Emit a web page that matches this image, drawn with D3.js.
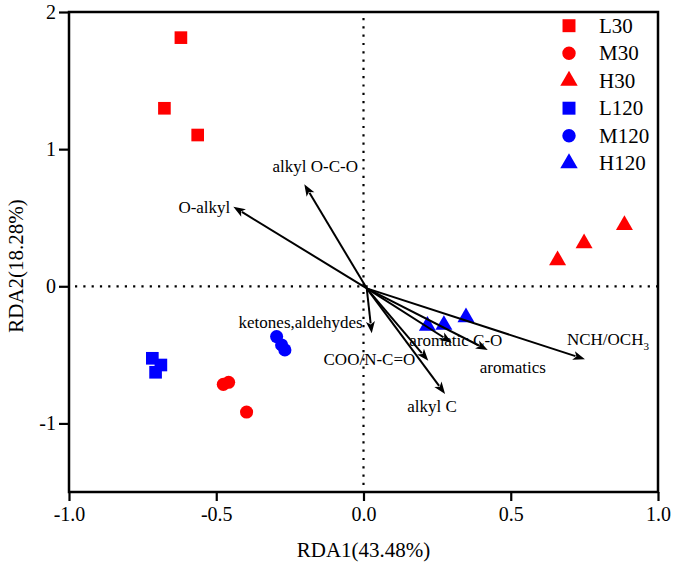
<!DOCTYPE html>
<html>
<head>
<meta charset="utf-8">
<script src="https://cdn.jsdelivr.net/npm/d3@7"></script>
<style>
  html, body { margin: 0; padding: 0; background: #fff; }
  svg { display: block; }
  text { font-family: "Liberation Serif", "Times New Roman", serif; fill: #000; }
</style>
</head>
<body>
<svg id="chart" width="675" height="569"></svg>
<script>
// ---------- data ----------
const groups = ["L30", "M30", "H30", "L120", "M120", "H120"];
const groupColors = ["#ff0000", "#ff0000", "#ff0000", "#0000ff", "#0000ff", "#0000ff"];
const groupShapes = ["square", "circle", "triangle", "square", "circle", "triangle"];

const L30x = [-0.620, -0.676, -0.563];
const L30y = [1.813, 1.298, 1.103];
const M30x = [-0.476, -0.458, -0.397];
const M30y = [-0.715, -0.700, -0.917];
const H30x = [0.886, 0.749, 0.659];
const H30y = [0.446, 0.314, 0.190];
const L120x = [-0.717, -0.688, -0.706];
const L120y = [-0.525, -0.574, -0.627];
const M120x = [-0.295, -0.278, -0.267];
const M120y = [-0.367, -0.428, -0.464];
const H120x = [0.217, 0.273, 0.348];
const H120y = [-0.289, -0.282, -0.226];

const varNames = ["O-alkyl", "alkyl O-C-O", "ketones,aldehydes", "COO/N-C=O", "alkyl C", "aromatic C-O", "aromatics", "NCH/OCH3"];
const varX = [-0.442, -0.201, 0.028, 0.220, 0.277, 0.300, 0.422, 0.752];
const varY = [0.580, 0.744, -0.343, -0.543, -0.785, -0.411, -0.465, -0.532];
const arrowOrigin = [0.011, -0.015];

const xTicks = [-1.0, -0.5, 0.0, 0.5, 1.0];
const yTicks = [2, 1, 0, -1];
const xTitle = "RDA1(43.48%)";
const yTitle = "RDA2(18.28%)";

// ---------- layout / style ----------
const plot = { left: 69, right: 658, top: 12, bottom: 492 };
// label placement (pixel offsets from arrow tip) — styling, not data
const labelPlace = [
  { anchor: "end", dx: -3, dy: 6 },
  { anchor: "middle", dx: 11, dy: -12 },
  { anchor: "end", dx: -9, dy: -5 },
  { anchor: "end", dx: -13, dy: 4 },
  { anchor: "middle", dx: -13, dy: 18 },
  { anchor: "middle", dx: 4, dy: 3 },
  { anchor: "middle", dx: 25, dy: 23 },
  { anchor: "start", dx: -18, dy: -14 }
];

const svg = d3.select("#chart");
const x = d3.scaleLinear().domain([-1, 1]).range([plot.left, plot.right]);
const y = d3.scaleLinear().domain([-1.5, 2]).range([plot.bottom, plot.top]);

// dotted zero lines
svg.append("line")
  .attr("x1", x(0)).attr("x2", x(0)).attr("y1", plot.top + 6).attr("y2", plot.bottom)
  .attr("stroke", "#000").attr("stroke-width", 2.2)
  .attr("stroke-dasharray", "2.2,6.1");
svg.append("line")
  .attr("x1", plot.left + 6).attr("x2", plot.right).attr("y1", y(0)).attr("y2", y(0))
  .attr("stroke", "#000").attr("stroke-width", 2.2)
  .attr("stroke-dasharray", "2.2,6.1");

// axes
const xAxis = d3.axisBottom(x).tickValues(xTicks).tickFormat(d3.format(".1f")).tickSizeOuter(0).tickSize(9).tickPadding(6);
const yAxis = d3.axisLeft(y).tickValues(yTicks).tickFormat(d3.format("d")).tickSizeOuter(0).tickSize(10).tickPadding(3);

const gx = svg.append("g").attr("transform", `translate(0,${plot.bottom})`).call(xAxis);
const gy = svg.append("g").attr("transform", `translate(${plot.left},0)`).call(yAxis);
[gx, gy].forEach(g => {
  g.select(".domain").remove();
  g.selectAll(".tick line").attr("stroke", "#000").attr("stroke-width", 2.2);
  g.selectAll(".tick text").style("font-family", '"Liberation Serif", "Times New Roman", serif')
    .style("font-size", "20px").attr("fill", "#000");
});
gy.selectAll(".tick text").text(d => d < 0 ? "-" + Math.abs(d) : d);
gx.selectAll(".tick text").text(d => (d < 0 ? "-" : "") + Math.abs(d).toFixed(1));

// frame
svg.append("rect")
  .attr("x", plot.left).attr("y", plot.top)
  .attr("width", plot.right - plot.left).attr("height", plot.bottom - plot.top)
  .attr("fill", "none").attr("stroke", "#000").attr("stroke-width", 2.5);

// axis titles
svg.append("text").attr("x", (plot.left + plot.right) / 2).attr("y", 557)
  .attr("text-anchor", "middle").style("font-size", "21px").text(xTitle);
svg.append("text").attr("transform", `translate(23,266) rotate(-90)`)
  .attr("text-anchor", "middle").style("font-size", "21px").text(yTitle);

// symbols
const symbolSize = { square: 160, circle: 135, triangle: 125 };
const symbolType = { square: d3.symbolSquare, circle: d3.symbolCircle, triangle: d3.symbolTriangle };
function symPath(shape, scale = 1) {
  return d3.symbol().type(symbolType[shape]).size(symbolSize[shape] * scale)();
}

const seriesX = [L30x, M30x, H30x, L120x, M120x, H120x];
const seriesY = [L30y, M30y, H30y, L120y, M120y, H120y];
groups.forEach((g, i) => {
  const pts = seriesX[i].map((vx, j) => [vx, seriesY[i][j]]);
  svg.append("g").selectAll("path").data(pts).join("path")
    .attr("d", symPath(groupShapes[i]))
    .attr("transform", d => `translate(${x(d[0])},${y(d[1])})`)
    .attr("fill", groupColors[i]);
});

// arrows
const ox = x(arrowOrigin[0]), oy = y(arrowOrigin[1]);
const headLen = 12, headHalf = 4.5;
varNames.forEach((name, i) => {
  const tx = x(varX[i]), ty = y(varY[i]);
  const dx = tx - ox, dy = ty - oy;
  const len = Math.hypot(dx, dy);
  const ux = dx / len, uy = dy / len;
  const bx = tx - ux * headLen, by = ty - uy * headLen;
  svg.append("line").attr("x1", ox).attr("y1", oy).attr("x2", bx + ux * 2).attr("y2", by + uy * 2)
    .attr("stroke", "#000").attr("stroke-width", 2);
  const px = -uy, py = ux;
  svg.append("path")
    .attr("d", `M${tx},${ty}L${bx + px * headHalf},${by + py * headHalf}L${bx + ux * 3},${by + uy * 3}L${bx - px * headHalf},${by - py * headHalf}Z`)
    .attr("fill", "#000");
  const lp = labelPlace[i];
  const t = svg.append("text").attr("x", tx + lp.dx).attr("y", ty + lp.dy)
    .attr("text-anchor", lp.anchor).style("font-size", "17px");
  if (name.endsWith("3")) {
    t.append("tspan").text(name.slice(0, -1));
    t.append("tspan").attr("dy", 5).style("font-size", "11px").text("3");
  } else {
    t.text(name);
  }
});

// legend
const leg = svg.append("g");
groups.forEach((g, i) => {
  const cy = 25.7 + i * 27.5;
  leg.append("path").attr("d", symPath(groupShapes[i], 1.05))
    .attr("transform", `translate(569,${cy})`).attr("fill", groupColors[i]);
  leg.append("text").attr("x", 599).attr("y", cy + 7).style("font-size", "21px").text(g);
});
</script>
</body>
</html>
